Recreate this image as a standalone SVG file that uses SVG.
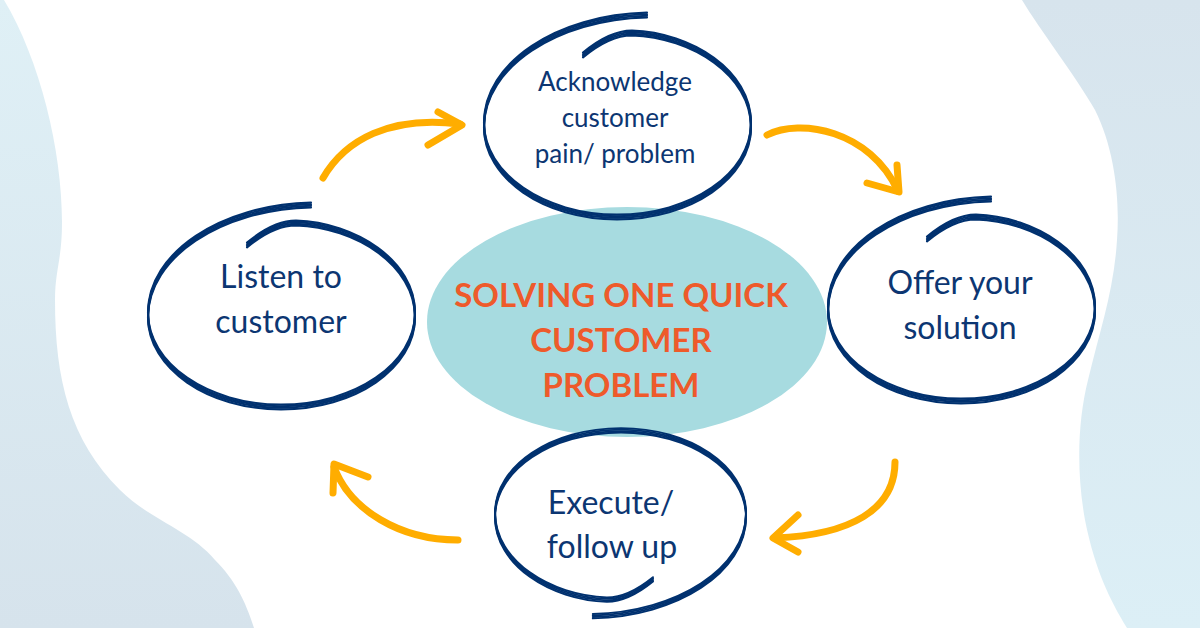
<svg xmlns="http://www.w3.org/2000/svg" xmlns:xlink="http://www.w3.org/1999/xlink" width="1200" height="628" viewBox="0 0 1200 628">
<style>
.ink{fill:none;stroke:#00316f;stroke-width:2.1;stroke-linecap:round;stroke-linejoin:round}
.lbl{font-family:Lato,"Open Sans","Liberation Sans",sans-serif;font-size:32px;fill:#0c3672;text-anchor:middle}
.small{font-size:26px}
.title{font-family:Lato,"Open Sans","Liberation Sans",sans-serif;font-size:33px;font-weight:bold;fill:#ee5a2b;text-anchor:middle}
.arr{fill:none;stroke:#ffad00;stroke-width:7;stroke-linecap:round;stroke-linejoin:round}
</style>
<defs>
<linearGradient id="gl" x1="0" y1="0" x2="0" y2="1"><stop offset="0" stop-color="#dff0f6"/><stop offset="1" stop-color="#d6e3ec"/></linearGradient>
<linearGradient id="gr" x1="0" y1="0" x2="0" y2="1"><stop offset="0" stop-color="#d7e4ed"/><stop offset="1" stop-color="#dceff6"/></linearGradient>
<path id="spiral" d="M30,-110 C-60,-108 -133,-60 -133,0 C-133,51 -73,92 0,92 C74,92 134,51 134,0 C134,-52 75,-90 15,-92 C-5,-92 -22,-80 -34,-70"/>
<g id="ring" class="ink">
<use xlink:href="#spiral" href="#spiral" y="-2.4"/>
<use xlink:href="#spiral" href="#spiral" y="-0.8"/>
<use xlink:href="#spiral" href="#spiral" y="0.8"/>
<use xlink:href="#spiral" href="#spiral" y="2.4"/>
</g>
</defs>
<rect width="1200" height="628" fill="#ffffff"/>
<g id="background">
<path d="M0,0 L4,0 C40,60 62,150 62,222 C62,260 55,270 55,300 C55,380 70,440 120,490 C150,520 190,530 215,560 C235,580 245,600 254,628 L0,628 Z" fill="url(#gl)"/>
<path d="M1022,0 C1040,30 1075,75 1095,110 C1115,150 1120,200 1117,240 C1114,290 1100,330 1088,380 C1078,420 1076,470 1085,520 C1095,570 1110,600 1127,628 L1200,628 L1200,0 Z" fill="url(#gr)"/>
</g>
<g id="center">
<ellipse cx="627" cy="322" rx="200" ry="115" fill="#a7dbe0"/>
<text class="title" x="621" y="307">SOLVING ONE QUICK</text>
<text class="title" x="621" y="352">CUSTOMER</text>
<text class="title" x="621" y="397">PROBLEM</text>
</g>
<g id="connectors">
<path class="arr" d="M323,178 C345,140 390,115 460,124"/>
<path class="arr" d="M438,112 L462,125 L428,145"/>
<path class="arr" d="M767,135 C800,118 870,130 898,191"/>
<path class="arr" d="M897,165 L899,192 L867,183"/>
<path class="arr" d="M895,462 C895,510 850,535 775,538"/>
<path class="arr" d="M798,515 L773,538 L798,552"/>
<path class="arr" d="M458,540 C400,540 350,510 334,467"/>
<path class="arr" d="M368,477 L334,464 L333,493"/>
</g>
<g id="node-listen">
<use xlink:href="#ring" href="#ring" transform="translate(281,315)"/>
<text class="lbl" x="281" y="288">Listen to</text>
<text class="lbl" x="281" y="333">customer</text>
</g>
<g id="node-acknowledge">
<use xlink:href="#ring" href="#ring" transform="translate(617,125)"/>
<text class="lbl small" x="615" y="91">Acknowledge</text>
<text class="lbl small" x="615" y="127">customer</text>
<text class="lbl small" x="615" y="163">pain/ problem</text>
</g>
<g id="node-offer">
<use xlink:href="#ring" href="#ring" transform="translate(961,309)"/>
<text class="lbl" x="960" y="294">Offer your</text>
<text class="lbl" x="960" y="339">solution</text>
</g>
<g id="node-execute">
<use xlink:href="#ring" href="#ring" transform="translate(621,515) rotate(180) scale(0.94,0.92)"/>
<text class="lbl" x="611" y="514">Execute/</text>
<text class="lbl" x="612" y="558">follow up</text>
</g>
</svg>
